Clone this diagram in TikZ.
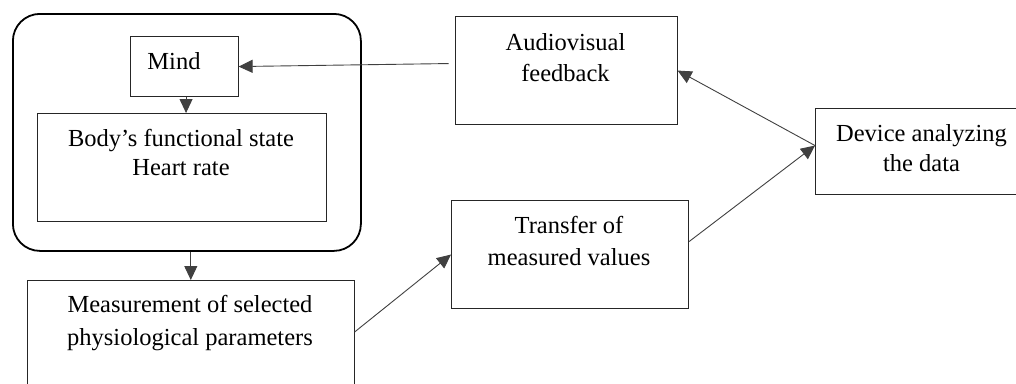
\documentclass[tikz,border=0pt]{standalone}
\usepackage{fontspec}
\setmainfont{Liberation Serif}
\usetikzlibrary{arrows.meta,calc}
\begin{document}
\begin{tikzpicture}[x=1pt,y=-1pt,
  box/.style={draw=black!85, line width=1.1pt, inner sep=0pt, anchor=north west},
  lbl/.style={inner sep=0pt, anchor=base, align=center, text=black},
  conn/.style={draw=black!75, line width=0.9pt, -{Triangle[length=14pt,width=13pt]}}]
\useasboundingbox (0,0) rectangle (1016,383);
\clip (0,0) rectangle (1016,383);

% outer rounded frame around mind and body
\node[box, line width=1.8pt, draw=black, rounded corners=27pt,
      minimum width=348pt, minimum height=237pt] (outer) at (12,13) {};

% boxes
\node[box, minimum width=108pt, minimum height=60pt]  (mind) at (129.5,36) {};
\node[box, minimum width=289pt, minimum height=108pt] (body) at (37,113) {};
\node[box, minimum width=326.5pt, minimum height=130pt] (meas) at (27,280) {};
\node[box, minimum width=222pt, minimum height=108pt] (av) at (454.5,16) {};
\node[box, minimum width=237pt, minimum height=108pt] (tr) at (451,200) {};
\node[box, minimum width=213pt, minimum height=86pt]  (dev) at (815,108) {};

% labels (anchored at the baseline of their last line)
\node[lbl, font=\fontsize{24.5}{29}\selectfont] (mindt) at (174,69) {Mind};
\node[lbl, font=\fontsize{24.5}{29}\selectfont] (bodyt) at (181,175.7) {Body’s functional state\\Heart rate};
\node[lbl, font=\fontsize{24.5}{33}\selectfont] (meast) at (190,345.5) {Measurement of selected\\physiological parameters};
\node[lbl, font=\fontsize{24.5}{31}\selectfont] (avt) at (565.5,81) {Audiovisual\\feedback};
\node[lbl, font=\fontsize{24.5}{31.5}\selectfont] (trt) at (569,265) {Transfer of\\measured values};
\node[lbl, font=\fontsize{24.5}{30}\selectfont] (devt) at (921.5,171.7) {Device analyzing\\the data};

% connector end points
\coordinate (avin) at ([shift={(-6,-7)}]av.west);
\coordinate (dv) at ([shift={(0,-6)}]dev.west);
\coordinate (mout) at ([shift={(2,0)}]mind.south);
\coordinate (mdown) at ([shift={(0,52)}]meas.north east);
\coordinate (trout) at ([shift={(0,-13)}]tr.east);

% connectors
\draw[conn] (avin) -- (mind.east);
\draw[conn] (mout) -- (mout |- body.north);
\draw[conn] (meas.north |- outer.south) -- (meas.north);
\draw[conn] (mdown) -- (tr.west);
\draw[conn] (trout) -- (dv);
\draw[conn] (dv) -- (av.east);
\end{tikzpicture}
\end{document}
